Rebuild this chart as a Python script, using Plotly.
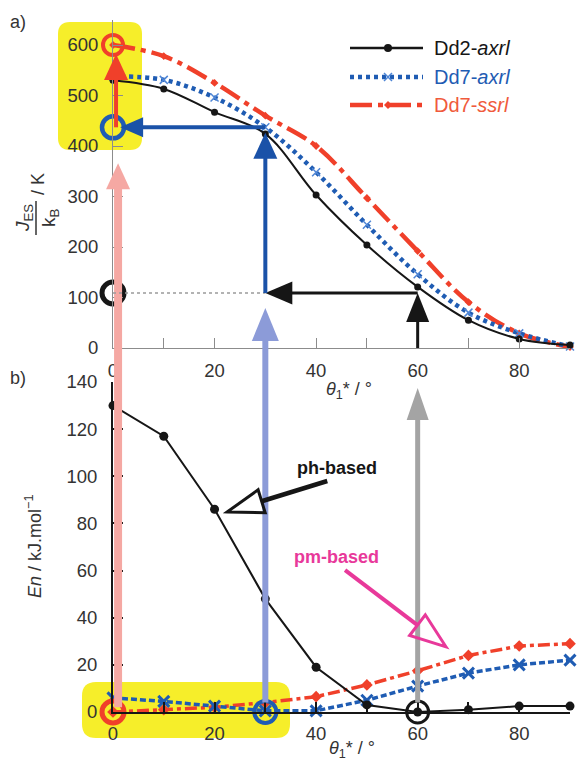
import math
import plotly.graph_objects as go

# ---------------- data ----------------
theta = [0, 10, 20, 30, 40, 50, 60, 70, 80, 90]
# panel a)  J_ES / k_B  (K)
jes_dd2_axrl = [530, 513, 467, 424, 303, 204, 121, 55, 18, 6]
jes_dd7_axrl = [538, 531, 496, 437, 348, 244, 146, 70, 29, 3]
jes_dd7_ssrl = [600, 578, 525, 460, 400, 297, 192, 91, 29, 2]
# panel b)  En  (kJ/mol)
en_dd2_axrl = [130, 117, 86, 48, 19, 3, 0, 1, 2.5, 2.5]
en_dd7_axrl = [6, 4.5, 2.5, 0.5, 0.5, 5, 11, 16.5, 20, 22]
en_dd7_ssrl = [0, 1, 2, 4, 6.5, 11.5, 17.5, 24, 28, 29]

series_labels = ["Dd2-<i>axrl</i>", "Dd7-<i>axrl</i>", "Dd7-<i>ssrl</i>"]
theta_ticks = [0, 10, 20, 30, 40, 50, 60, 70, 80, 90]
theta_ticktext = ["0", " ", "20", " ", "40", " ", "60", " ", "80", " "]
jes_ticks = [0, 100, 200, 300, 400, 500, 600]
en_ticks = [0, 20, 40, 60, 80, 100, 120, 140]

# circled read-off points
pick_theta = [0, 30, 60]      # minima picked in panel b
pick_jes = [600, 437, 109]    # matching J_ES values read on axis a

# ---------------- style / geometry ----------------
W, H = 577, 763
FONT = "Liberation Sans, Arial, Helvetica, sans-serif"
BLACK = "#161616"
BLUE = "#1f5cb3"
BLUE_X = "#4f86d6"
RED = "#f0402a"
RED_TXT = "#f05a3c"
ARROW_BLUE = "#1a52a8"
PINK = "#f5a8a3"
LIGHT_BLUE = "#8c9bd8"
GREY = "#a4a4a4"
MAGENTA = "#e8399a"
YELLOW = "#f6ee2a"
TXT = "#333333"

XR = [0, 90]
YRA = [0, 650]
YRB = [0, 140]
XDOM = [113 / W, 570 / W]
YDOMA = [1 - 348 / H, 1 - 19.75 / H]
YDOMB = [1 - 712 / H, 1 - 382 / H]


def fx(v):
    return XDOM[0] + (v - XR[0]) / (XR[1] - XR[0]) * (XDOM[1] - XDOM[0])


def fya(v):
    return YDOMA[0] + (v - YRA[0]) / (YRA[1] - YRA[0]) * (YDOMA[1] - YDOMA[0])


def fyb(v):
    return YDOMB[0] + (v - YRB[0]) / (YRB[1] - YRB[0]) * (YDOMB[1] - YDOMB[0])


shapes = []


def seg(x0, y0, x1, y1, color, width, dash="solid", layer="above"):
    shapes.append(dict(type="line", xref="paper", yref="paper", x0=x0, y0=y0, x1=x1, y1=y1,
                       line=dict(color=color, width=width, dash=dash), layer=layer))


def head(xa, ya, ux, uy, length, width, color, filled=True, lw=0):
    px, py = -uy, ux
    bx, by = -ux * length, -uy * length
    p1 = (bx + px * width / 2, by + py * width / 2)
    p2 = (bx - px * width / 2, by - py * width / 2)
    path = "M0,0 L%.2f,%.2f L%.2f,%.2f Z" % (p1[0], p1[1], p2[0], p2[1])
    shapes.append(dict(type="path", xref="paper", yref="paper", xsizemode="pixel", ysizemode="pixel",
                       xanchor=xa, yanchor=ya, path=path,
                       fillcolor=color if filled else "rgba(0,0,0,0)",
                       line=dict(color=color, width=lw), layer="above"))


def arrow(x0, y0, x1, y1, color, width, hl, hw, filled=True, lw=0):
    dxp = (x1 - x0) * W
    dyp = (y1 - y0) * H
    L = math.hypot(dxp, dyp)
    ux, uy = dxp / L, dyp / L
    back = hl * 0.5 if filled else hl
    seg(x0, y0, x1 - ux * back / W, y1 - uy * back / H, color, width)
    head(x1, y1, ux, uy, hl, hw, color, filled, lw)


def rrect(xa, ya, x0, y0, x1, y1, r, color):
    p = ("M%g,%g L%g,%g Q%g,%g %g,%g L%g,%g Q%g,%g %g,%g L%g,%g Q%g,%g %g,%g L%g,%g Q%g,%g %g,%g Z" %
         (x0 + r, y0, x1 - r, y0, x1, y0, x1, y0 + r, x1, y1 - r, x1, y1, x1 - r, y1,
          x0 + r, y1, x0, y1, x0, y1 - r, x0, y0 + r, x0, y0, x0 + r, y0))
    shapes.append(dict(type="path", xref="paper", yref="paper", xsizemode="pixel", ysizemode="pixel",
                       xanchor=xa, yanchor=ya, path=p, fillcolor=color,
                       line=dict(width=0), layer="below"))


# yellow highlight boxes
rrect(fx(0), fya(0), -55, 198, 29, 326, 12, YELLOW)
rrect(fx(0), fyb(0), -31, -26, 177, 30, 14, YELLOW)

fig = go.Figure()

# ---------------- panel a) ----------------
fig.add_trace(go.Scatter(x=theta, y=jes_dd7_ssrl, xaxis="x", yaxis="y", mode="lines+markers",
                         line=dict(color=RED, width=4.5, dash="22px,6px,5px,6px", shape="spline"),
                         marker=dict(symbol="diamond", size=6, color=RED),
                         cliponaxis=False, showlegend=False, hoverinfo="skip"))
fig.add_trace(go.Scatter(x=theta, y=jes_dd7_axrl, xaxis="x", yaxis="y", mode="lines+markers",
                         line=dict(color=BLUE, width=4.5, dash="4px,4px", shape="spline"),
                         marker=dict(symbol="x-thin", size=8, color=BLUE_X, line=dict(color=BLUE_X, width=1.5)),
                         cliponaxis=False, showlegend=False, hoverinfo="skip"))
fig.add_trace(go.Scatter(x=theta, y=jes_dd2_axrl, xaxis="x", yaxis="y", mode="lines+markers",
                         line=dict(color=BLACK, width=2, shape="spline"),
                         marker=dict(symbol="circle", size=7, color=BLACK),
                         cliponaxis=False, showlegend=False, hoverinfo="skip"))

# ---------------- panel b) ----------------
fig.add_trace(go.Scatter(x=theta, y=en_dd7_ssrl, xaxis="x2", yaxis="y2", mode="lines+markers",
                         line=dict(color=RED, width=3.5, dash="12px,4px,4px,4px"),
                         marker=dict(symbol="diamond", size=9, color=RED),
                         cliponaxis=False, showlegend=False, hoverinfo="skip"))
fig.add_trace(go.Scatter(x=theta, y=en_dd7_axrl, xaxis="x2", yaxis="y2", mode="lines+markers",
                         line=dict(color=BLUE, width=3.5, dash="6px,3px"),
                         marker=dict(symbol="x-thin", size=11, color=BLUE, line=dict(color=BLUE, width=3)),
                         cliponaxis=False, showlegend=False, hoverinfo="skip"))
fig.add_trace(go.Scatter(x=theta, y=en_dd2_axrl, xaxis="x2", yaxis="y2", mode="lines+markers",
                         line=dict(color=BLACK, width=2),
                         marker=dict(symbol="circle", size=9, color=BLACK),
                         cliponaxis=False, showlegend=False, hoverinfo="skip"))

# circled points
ring_cols = [RED, BLUE, BLACK]
ring_w_top = [4, 4.5, 5]
ring_s_top = [20, 22, 22]
for i in range(3):
    fig.add_trace(go.Scatter(x=[XR[0]], y=[pick_jes[i]], xaxis="x", yaxis="y", mode="markers",
                             marker=dict(symbol="circle-open", size=ring_s_top[i], color=ring_cols[i],
                                         line=dict(color=ring_cols[i], width=ring_w_top[i])),
                             cliponaxis=False, showlegend=False, hoverinfo="skip"))
ring_w_bot = [5, 4, 3]
ring_s_bot = [22, 22, 22]
for i in range(3):
    fig.add_trace(go.Scatter(x=[pick_theta[i]], y=[0], xaxis="x2", yaxis="y2", mode="markers",
                             marker=dict(symbol="circle-open", size=ring_s_bot[i], color=ring_cols[i],
                                         line=dict(color=ring_cols[i], width=ring_w_bot[i])),
                             cliponaxis=False, showlegend=False, hoverinfo="skip"))

# ---------------- arrows ----------------
# reading arrows from panel b up to panel a
arrow(fx(1.0), fyb(2), fx(1.0), fya(366), PINK, 8, 26, 24)
arrow(fx(30), fyb(4), fx(30), fya(79), LIGHT_BLUE, 6, 33, 27)
arrow(fx(60), fyb(4), fx(60), fyb(137.5), GREY, 5, 32, 22)
# panel a read-offs
seg(fx(0), fya(pick_jes[2]), fx(30), fya(pick_jes[2]), "#9a9a9a", 1.5, "dot")
arrow(fx(60), fya(0), fx(60), fya(pick_jes[2]), BLACK, 3, 29, 23)
arrow(fx(60), fya(pick_jes[2]), fx(30), fya(pick_jes[2]), BLACK, 3, 27, 23)
arrow(fx(30), fya(pick_jes[2]), fx(30), fya(426), ARROW_BLUE, 4, 26, 24)
arrow(fx(30), fya(pick_jes[1]), fx(1.4), fya(pick_jes[1]), ARROW_BLUE, 4, 23, 20)
arrow(fx(0.6), fya(pick_jes[1]), fx(0.6), fya(582), RED, 4, 26, 24)
# open arrows in panel b
arrow(fx(42.2), fyb(98), fx(22.5), fyb(84.9), BLACK, 4.5, 36, 24, filled=False, lw=3)
arrow(fx(45.7), fyb(60.2), fx(65.6), fyb(27.6), MAGENTA, 4, 36, 26, filled=False, lw=3)

# ---------------- legend (manual) ----------------
leg_rows = [48, 77, 105]
leg_x0, leg_x1, leg_mx, leg_tx = 350, 423, 388, 432
seg(leg_x0 / W, 1 - leg_rows[0] / H, leg_x1 / W, 1 - leg_rows[0] / H, BLACK, 2.5)
seg(leg_x0 / W, 1 - leg_rows[1] / H, leg_x1 / W, 1 - leg_rows[1] / H, BLUE, 4.5, "4px,4px")
seg(leg_x0 / W, 1 - leg_rows[2] / H, leg_x1 / W, 1 - leg_rows[2] / H, RED, 4.5, "22px,6px,5px,6px")
shapes.append(dict(type="circle", xref="paper", yref="paper", xsizemode="pixel", ysizemode="pixel",
                   xanchor=leg_mx / W, yanchor=1 - leg_rows[0] / H, x0=-4, x1=4, y0=-4, y1=4,
                   fillcolor=BLACK, line=dict(width=0)))
shapes.append(dict(type="path", xref="paper", yref="paper", xsizemode="pixel", ysizemode="pixel",
                   xanchor=leg_mx / W, yanchor=1 - leg_rows[1] / H, path="M-4,-4 L4,4 M-4,4 L4,-4",
                   line=dict(color=BLUE_X, width=1.5)))
shapes.append(dict(type="path", xref="paper", yref="paper", xsizemode="pixel", ysizemode="pixel",
                   xanchor=leg_mx / W, yanchor=1 - leg_rows[2] / H, path="M0,4 L4,0 L0,-4 L-4,0 Z",
                   fillcolor=RED, line=dict(width=0)))

leg_cols = [BLACK, BLUE, RED_TXT]
annotations = []
for i in range(3):
    annotations.append(dict(x=leg_tx / W, y=1 - leg_rows[i] / H, xref="paper", yref="paper",
                            text=series_labels[i], showarrow=False, xanchor="left", yanchor="middle",
                            font=dict(family=FONT, size=20, color=leg_cols[i])))


def ann(px, py, text, size=18, color=TXT, angle=0, bold=False):
    annotations.append(dict(x=px / W, y=1 - py / H, xref="paper", yref="paper", text=text,
                            showarrow=False, xanchor="center", yanchor="middle", textangle=angle,
                            font=dict(family=FONT, size=size, color=color,
                                      weight="bold" if bold else "normal")))


ann(18, 22, "a)")
ann(18, 378, "b)")
ann(349, 390, "<i>θ</i><sub>1</sub>* / °")
ann(352, 749, "<i>θ</i><sub>1</sub>* / °")
ann(33, 547, "<i>En</i> / kJ.mol<sup>−1</sup>", angle=-90)
ann(24, 218, "<i>J</i><sub>ES</sub>", size=19, angle=-90)
ann(50, 218, "k<sub>B</sub>", size=19, angle=-90)
ann(38, 184, "/ K", size=18, angle=-90)
seg(36 / W, 1 - 201 / H, 36 / W, 1 - 235 / H, TXT, 1.5)

annotations.append(dict(x=44.1, y=103.5, xref="x2", yref="y2", text="ph-based", showarrow=False,
                        font=dict(family=FONT, size=18, color=BLACK, weight="bold")))
annotations.append(dict(x=44.1, y=65.8, xref="x2", yref="y2", text="pm-based", showarrow=False,
                        font=dict(family=FONT, size=18, color=MAGENTA, weight="bold")))

tickfont = dict(family=FONT, size=18.5, color=TXT)
axis_a = dict(showline=True, linecolor="#8c8c8c", linewidth=1, ticks="inside", ticklen=10,
              tickwidth=1, tickcolor="#8c8c8c", showgrid=False, zeroline=False,
              tickfont=tickfont, tickmode="array", automargin=False)
axis_b = dict(showline=True, linecolor=BLACK, linewidth=2, ticks="inside", ticklen=10,
              tickwidth=2, tickcolor=BLACK, showgrid=False, zeroline=False,
              tickfont=tickfont, tickmode="array", automargin=False)

fig.update_layout(
    width=W, height=H, autosize=False,
    margin=dict(l=0, r=0, t=0, b=0, pad=0, autoexpand=False),
    paper_bgcolor="white", plot_bgcolor="rgba(0,0,0,0)",
    showlegend=False,
    xaxis=dict(domain=XDOM, range=XR, anchor="y", tickvals=theta_ticks, ticktext=theta_ticktext,
               ticklabelstandoff=6, **axis_a),
    yaxis=dict(domain=YDOMA, range=YRA, anchor="x", tickvals=jes_ticks, ticktext=[str(v) for v in jes_ticks],
               ticklabelstandoff=10, **axis_a),
    xaxis2=dict(domain=XDOM, range=XR, anchor="y2", tickvals=theta_ticks, ticktext=theta_ticktext,
                ticklabelstandoff=4, **axis_b),
    yaxis2=dict(domain=YDOMB, range=YRB, anchor="x2", tickvals=en_ticks, ticktext=[str(v) for v in en_ticks],
                ticklabelstandoff=10, **axis_b),
    shapes=shapes,
    annotations=annotations,
    font=dict(family=FONT, color=TXT),
)

fig.write_html("out.html", config={"displayModeBar": False},
               post_script="document.body.style.margin='0';document.body.style.overflow='hidden';")
